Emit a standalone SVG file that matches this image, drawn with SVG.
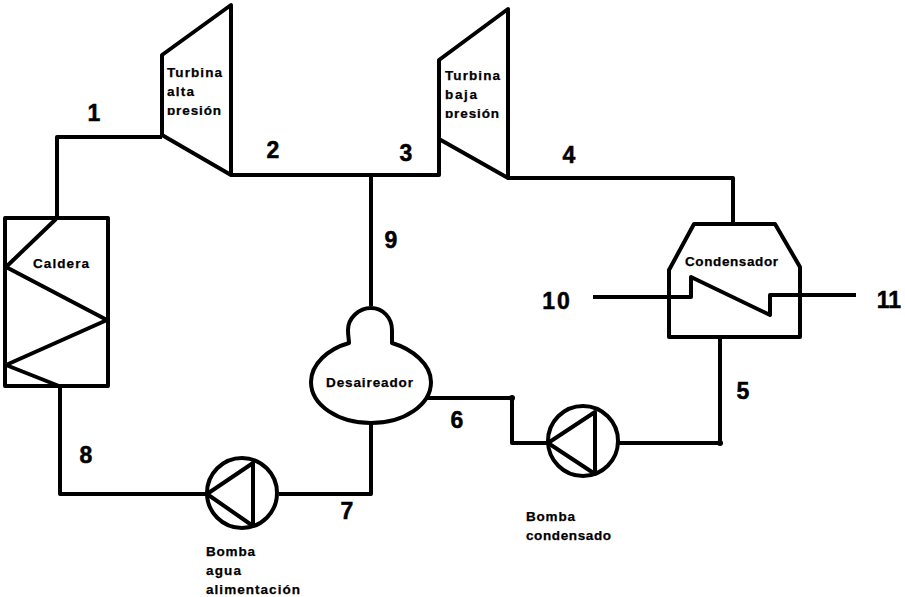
<svg xmlns="http://www.w3.org/2000/svg" width="905" height="597" viewBox="0 0 905 597">
<style>
.s{fill:none;stroke:#000;stroke-width:4;stroke-linejoin:round}
.t{font:bold 13.5px "Liberation Sans",Arial,sans-serif;fill:#000;stroke:#000;stroke-width:.25}
.n{font:bold 23px "Liberation Sans",Arial,sans-serif;fill:#000;stroke:#000;stroke-width:.5;text-anchor:middle}
</style>
<defs>
<clipPath id="c1"><rect x="160" y="60" width="70" height="55"/></clipPath>
<clipPath id="c2"><rect x="437" y="60" width="70" height="58"/></clipPath>
</defs>
<rect width="905" height="597" fill="#fff"/>
<g id="connectors">
<path class="s" d="M57 218V137H162"/>
<path class="s" d="M231 175H439V139"/>
<path class="s" d="M371 175V306"/>
<path class="s" d="M508 178H733V224"/>
<path class="s" d="M60 386V494H207"/>
<path class="s" d="M279 494H371V423"/>
<path class="s" d="M426 398H512V443H548"/>
<path class="s" d="M619 443H720V338"/>
<circle cx="512" cy="398" r="3"/>
<circle cx="720" cy="443" r="3"/>
</g>
<g id="caldera">
<rect class="s" x="5" y="218" width="103" height="168"/>
<path class="s" d="M56 219L6 267L107 320L6 365L59 386"/>
<text class="t" x="33" y="268" textLength="56">Caldera</text>
</g>
<g id="turbina-alta">
<path class="s" d="M162 55L231 5V175L162 135Z"/>
<g clip-path="url(#c1)"><text class="t" x="167" y="77" textLength="55">Turbina</text><text class="t" x="167" y="96" textLength="27">alta</text><text class="t" x="167" y="115" textLength="54">presión</text></g>
</g>
<g id="turbina-baja">
<path class="s" d="M439 60L508 9V178L439 139Z"/>
<g clip-path="url(#c2)"><text class="t" x="445" y="80" textLength="55">Turbina</text><text class="t" x="445" y="99" textLength="32">baja</text><text class="t" x="445" y="118" textLength="54">presión</text></g>
</g>
<g id="condensador">
<path class="s" d="M669 337V270L694 224H775L800 267V337Z"/>
<path class="s" d="M593 297H691V277L770 315V295H856"/>
<text class="t" x="685" y="266" textLength="93">Condensador</text>
</g>
<g id="desaireador">
<path class="s" d="M349 343C349 340 348 336 348 330C348 318 359 308 371 308C383 308 392 318 392 330C392 336 392 340 392 343C412 349 431 364 431 382C431 405 404 423 371 423C338 423 311 405 311 382C311 364 328 349 349 343Z"/>
<text class="t" x="326" y="387" textLength="87">Desaireador</text>
</g>
<g id="bomba-agua">
<circle class="s" cx="242" cy="493" r="35"/>
<path class="s" d="M207 494L253 463V526Z"/>
<text class="t" x="206" y="556" textLength="49">Bomba</text><text class="t" x="206" y="575" textLength="35">agua</text><text class="t" x="206" y="594" textLength="94">alimentación</text>
</g>
<g id="bomba-condensado">
<circle class="s" cx="583" cy="441" r="35"/>
<path class="s" d="M548 443L595 412V474Z"/>
<text class="t" x="526" y="521" textLength="49">Bomba</text><text class="t" x="526" y="540" textLength="85">condensado</text>
</g>
<g id="labels">
<text class="n" x="94" y="121">1</text>
<text class="n" x="273" y="158">2</text>
<text class="n" x="406" y="161">3</text>
<text class="n" x="569" y="163">4</text>
<text class="n" x="743" y="399">5</text>
<text class="n" x="457" y="428">6</text>
<text class="n" x="347" y="519">7</text>
<text class="n" x="86" y="463">8</text>
<text class="n" x="391" y="248">9</text>
<text class="n" x="557" y="309" style="letter-spacing:2px">10</text>
<text class="n" x="889" y="308">11</text>
</g>
</svg>
